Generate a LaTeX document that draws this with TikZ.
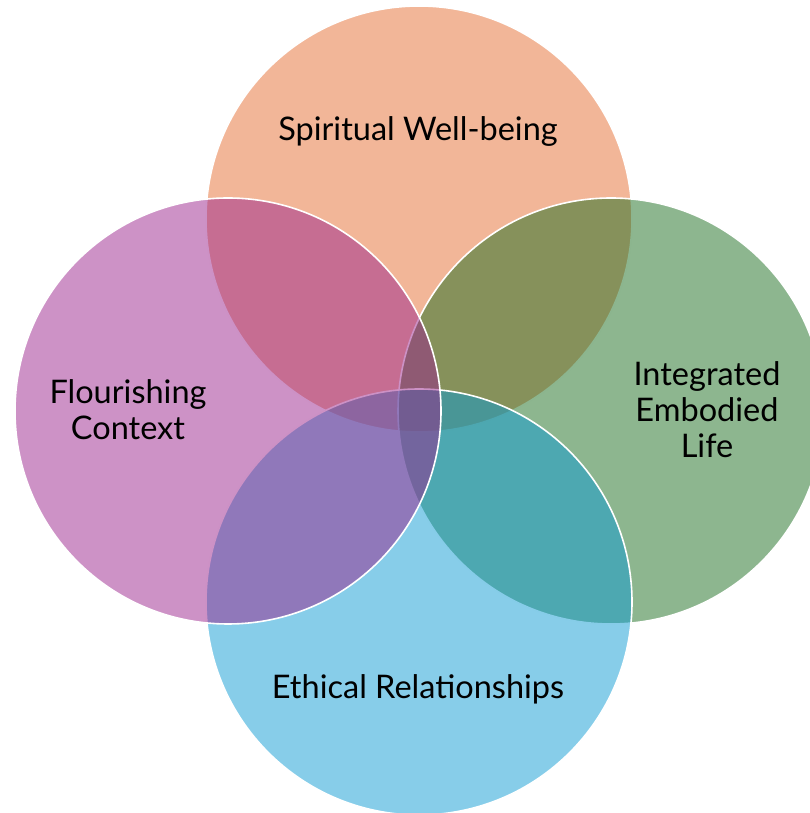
\documentclass[tikz,border=0pt]{standalone}
\usepackage{fontspec}
\setmainfont{Lato}
\definecolor{spiritc}{RGB}{229,109,49}
\definecolor{lifec}{RGB}{27,109,31}
\definecolor{ethicc}{RGB}{15,155,211}
\definecolor{flourc}{RGB}{155,37,141}
\tikzset{
  venn/.style={circle, minimum size=426pt, inner sep=0pt, draw=white,
    line width=1.6pt, fill opacity=0.5},
  vennlabel/.style={align=center, font=\fontsize{32.5}{36}\selectfont, text=black}
}
\begin{document}
\begin{tikzpicture}[x=1pt,y=1pt]
\useasboundingbox (0,0) rectangle (810,813);

% circles
\node[venn, fill=spiritc] (spirit) at (419,594) {};
\node[venn, fill=lifec] (life) at (611,402) {};
\node[venn, fill=ethicc] (ethic) at (419,211) {};
\node[venn, fill=flourc] (flour) at (228,402) {};

% labels
\node[vennlabel] (spiritlab) at (418,681) {Spiritual Well-being};
\node[vennlabel] (flourlab) at (128,403) {Flourishing\\Context};
\node[vennlabel] (lifelab) at (707,403) {Integrated\\Embodied\\Life};
\node[vennlabel] (ethiclab) at (418,124) {Ethical Relationships};

\end{tikzpicture}
\end{document}
